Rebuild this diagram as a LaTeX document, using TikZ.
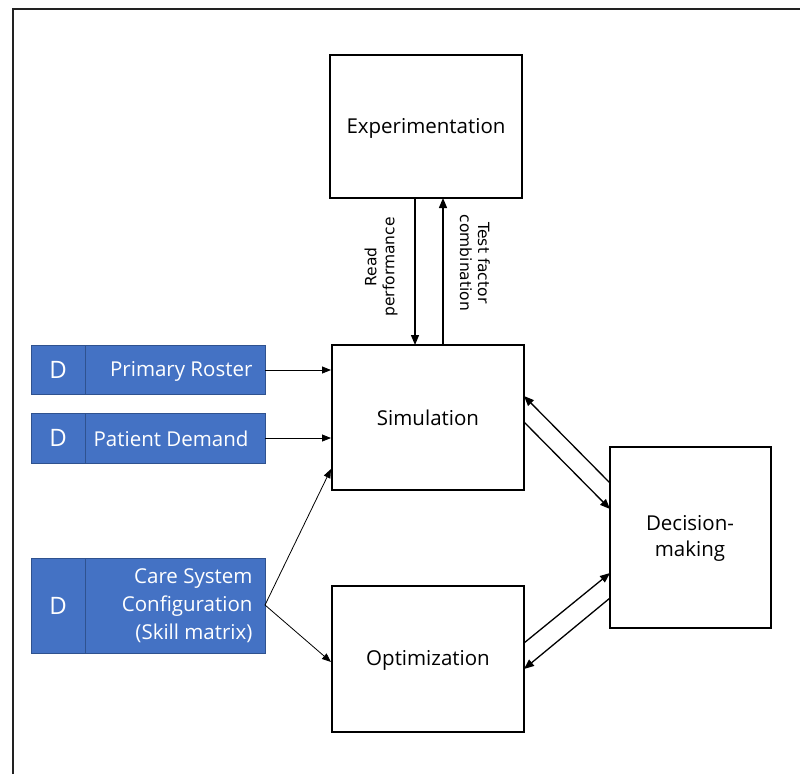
\documentclass[tikz,border=0pt]{standalone}
\usepackage{fontspec}
\setmainfont{Open Sans}
\newfontfamily\lblfont{DejaVu Sans}
\definecolor{dblue}{HTML}{4472C4}
\definecolor{dborder}{HTML}{2F528F}
\definecolor{frame}{HTML}{222222}
\usetikzlibrary{arrows.meta}
\begin{document}
\begin{tikzpicture}[x=1pt,y=-1pt,
  box/.style={draw=black,line width=1.3pt,fill=white},
  dbox/.style={draw=dborder,line width=0.9pt,fill=dblue},
  arr/.style={-{Triangle[length=10pt,width=8pt]},line width=1.3pt},
  thin arr/.style={-{Triangle[length=9pt,width=7pt]},line width=0.8pt},
  lbl/.style={font=\fontsize{20.5}{26}\selectfont,align=center},
  dlbl/.style={font=\fontsize{20.5}{28}\selectfont,text=white,align=right},
  dd/.style={font=\fontsize{24}{28}\selectfont,text=white},
  rlbl/.style={font=\lblfont\fontsize{15.5}{18}\selectfont,align=center,rotate=-90}]
\useasboundingbox (0,0) rectangle (800,774);
\draw[frame,line width=2pt] (13,774) -- (13,9) -- (800,9);
% main boxes
\draw[box] (330,55) rectangle (522,198);
\node[lbl] (exp) at (426,128) {Experimentation};
\coordinate (expS1) at (415,198); \coordinate (expS2) at (443,198);
\draw[box] (332,345) rectangle (524,490);
\node[lbl] (sim) at (428,418) {Simulation};
\draw[box] (332,586) rectangle (524,732);
\node[lbl] (opt) at (428,660) {Optimization};
\draw[box] (610,447) rectangle (771,628);
\node[lbl] (dec) at (690,538) {Decision-\\making};
% data boxes
\draw[dbox] (31,345) rectangle (265,394); \draw[dborder,line width=0.9pt] (85,345) -- (85,394);
\node[dd] (d1) at (58,370) {D};
\node[dlbl,anchor=east] (pr) at (256,371) {Primary Roster};
\draw[dbox] (31,413) rectangle (265,463); \draw[dborder,line width=0.9pt] (85,413) -- (85,463);
\node[dd] (d2) at (58,438) {D};
\node[dlbl,anchor=east] (pd) at (252,439) {Patient Demand};
\draw[dbox] (31,558) rectangle (265,653); \draw[dborder,line width=0.9pt] (85,558) -- (85,653);
\node[dd] (d3) at (58,606) {D};
\node[dlbl,anchor=east] (cs) at (256,606) {Care System\\Configuration\\(Skill matrix)};
% coordinates
\coordinate (prE) at (265,370); \coordinate (simW1) at (331,370);
\coordinate (pdE) at (265,438); \coordinate (simW2) at (331,438);
\coordinate (csE) at (265,605); \coordinate (simSW) at (331,469); \coordinate (optW) at (331,662);
\coordinate (simN1) at (415,345); \coordinate (simN2) at (443,345);
\coordinate (simE1) at (524,396); \coordinate (simE2) at (524,422);
\coordinate (decW1) at (610,483); \coordinate (decW2) at (610,509);
\coordinate (decW3) at (610,573); \coordinate (decW4) at (610,598);
\coordinate (optE1) at (524,643); \coordinate (optE2) at (524,669);
% connectors
\draw[thin arr] (prE) -- (simW1);
\draw[thin arr] (pdE) -- (simW2);
\draw[thin arr] (csE) -- (simSW);
\draw[thin arr] (csE) -- (optW);
\draw[arr] (expS1) -- (simN1);
\draw[arr] (simN2) -- (expS2);
\draw[arr] (decW1) -- (simE1);
\draw[arr] (simE2) -- (decW2);
\draw[arr] (optE1) -- (decW3);
\draw[arr] (decW4) -- (optE2);
\node[rlbl,rotate=180] (rp) at (381,267) {Read\\performance};
\node[rlbl] (tf) at (475,263) {Test factor\\combination};
\end{tikzpicture}
\end{document}
